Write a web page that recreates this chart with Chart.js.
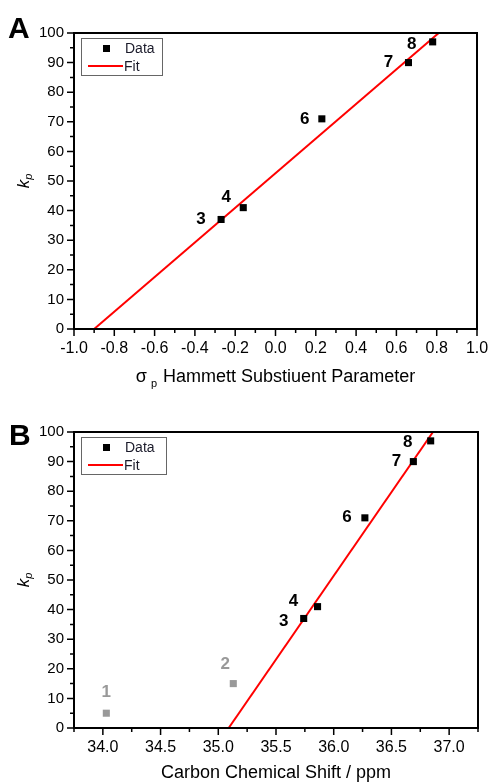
<!DOCTYPE html>
<html>
<head>
<meta charset="utf-8">
<script src="https://cdn.jsdelivr.net/npm/chart.js@4.4.1/dist/chart.umd.min.js"></script>
<style>
  html, body { margin: 0; padding: 0; background: #fff; }
  #wrap { position: relative; width: 489px; height: 783px; }
  canvas { position: absolute; left: 0; }
  #chartA { top: 0; }
  #chartB { top: 390px; }
</style>
</head>
<body>
<div id="wrap">
  <canvas id="chartA" width="489" height="390"></canvas>
  <canvas id="chartB" width="489" height="393"></canvas>
</div>
<script>
// Panel A: kp vs Hammett sigma_p
const labelsA = ['3', '4', '6', '7', '8'];
const sigmaA = [-0.27, -0.16, 0.23, 0.66, 0.78];
const kpA = [37, 41, 71, 90, 97];
const fitSigmaA = [-0.90, 0.81];
const fitKpA = [0, 100];
const xTicksA = [-1.0, -0.8, -0.6, -0.4, -0.2, 0.0, 0.2, 0.4, 0.6, 0.8, 1.0];

// Panel B: kp vs carbon chemical shift
const labelsB = ['3', '4', '6', '7', '8'];
const shiftB = [35.74, 35.86, 36.27, 36.69, 36.84];
const kpB = [37, 41, 71, 90, 97];
const outLabelsB = ['1', '2'];
const outShiftB = [34.03, 35.13];
const outKpB = [5, 15];
const fitShiftB = [35.09, 36.86];
const fitKpB = [0, 100];
const xTicksB = [34.0, 34.5, 35.0, 35.5, 36.0, 36.5, 37.0];

const yTicks = [0, 10, 20, 30, 40, 50, 60, 70, 80, 90, 100];

const FONT = '"Liberation Sans", Arial, sans-serif';

function pts(xs, ys) {
    return xs.map((v, i) => ({ x: v, y: ys[i] }));
}

function minorsOf(major, min, max) {
    const out = [];
    const step = major[1] - major[0];
    const all = [major[0] - step].concat(major, [major[major.length - 1] + step]);
    for (let i = 0; i < all.length - 1; i++) {
        const m = (all[i] + all[i + 1]) / 2;
        if (m >= min - 1e-9 && m <= max + 1e-9) out.push(m);
    }
    return out;
}

// frame, ticks, labels, legend, titles
const decor = {
    id: 'decor',
    afterDraw(chart, args, o) {
        const { ctx, chartArea: a, scales: { x, y } } = chart;
        ctx.save();
        ctx.strokeStyle = '#000';
        ctx.lineWidth = 2;
        ctx.strokeRect(a.left, a.top, a.right - a.left, a.bottom - a.top);

        ctx.lineWidth = 1.5;
        ctx.beginPath();
        o.xMajor.forEach(v => { const px = x.getPixelForValue(v); ctx.moveTo(px, a.bottom); ctx.lineTo(px, a.bottom + 7); });
        minorsOf(o.xMajor, x.min, x.max).forEach(v => { const px = x.getPixelForValue(v); ctx.moveTo(px, a.bottom); ctx.lineTo(px, a.bottom + 4); });
        yTicks.forEach(v => { const py = y.getPixelForValue(v); ctx.moveTo(a.left, py); ctx.lineTo(a.left - 7, py); });
        minorsOf(yTicks, y.min, y.max).forEach(v => { const py = y.getPixelForValue(v); ctx.moveTo(a.left, py); ctx.lineTo(a.left - 4, py); });
        ctx.stroke();

        // point labels
        ctx.textAlign = 'center';
        ctx.textBaseline = 'middle';
        o.pointLabels.forEach(pl => {
            ctx.font = 'bold 17px ' + FONT;
            ctx.fillStyle = pl.color;
            pl.names.forEach((n, i) => {
                const px = x.getPixelForValue(pl.xs[i]) + pl.off[i][0];
                const py = y.getPixelForValue(pl.ys[i]) + pl.off[i][1];
                ctx.fillText(n, px, py);
            });
        });

        // legend box
        const lx = a.left + 7, ly = a.top + 5;
        ctx.strokeStyle = '#666';
        ctx.lineWidth = 1;
        ctx.strokeRect(lx + 0.5, ly + 0.5, o.legendW, 37);
        ctx.fillStyle = '#000';
        ctx.fillRect(lx + 22, ly + 7, 7, 7);
        ctx.strokeStyle = '#ff0000';
        ctx.lineWidth = 2;
        ctx.beginPath();
        ctx.moveTo(lx + 7, ly + 28);
        ctx.lineTo(lx + 42, ly + 28);
        ctx.stroke();
        ctx.fillStyle = '#1a1a2a';
        ctx.font = '14px ' + FONT;
        ctx.textAlign = 'left';
        ctx.fillText('Data', lx + 44, ly + 11);
        ctx.fillText('Fit', lx + 43, ly + 29);

        // panel letter
        ctx.fillStyle = '#000';
        ctx.font = 'bold 30px ' + FONT;
        ctx.textBaseline = 'alphabetic';
        ctx.fillText(o.letter, o.letterX, a.top + o.letterDy);

        // y title k_p
        ctx.save();
        ctx.translate(24, (a.top + a.bottom) / 2);
        ctx.rotate(-Math.PI / 2);
        ctx.textBaseline = 'middle';
        ctx.textAlign = 'left';
        ctx.font = 'italic 17px ' + FONT;
        const kw = ctx.measureText('k').width;
        ctx.font = 'italic 11px ' + FONT;
        const pw = ctx.measureText('p').width;
        const tw = kw + pw;
        ctx.font = 'italic 17px ' + FONT;
        ctx.fillText('k', -tw / 2, 0);
        ctx.font = 'italic 11px ' + FONT;
        ctx.fillText('p', -tw / 2 + kw, 5);
        ctx.restore();

        // x title
        ctx.textBaseline = 'middle';
        ctx.textAlign = 'left';
        const cx = (a.left + a.right) / 2;
        const ty = a.bottom + o.titleDy;
        ctx.fillStyle = '#000';
        if (o.sigma) {
            ctx.font = '18px ' + FONT;
            const sw = ctx.measureText('σ').width;
            const rest = ' Hammett Substiuent Parameter';
            const rw = ctx.measureText(rest).width;
            ctx.font = '11px ' + FONT;
            const subw = ctx.measureText('p').width + 5;
            const total = sw + subw + rw;
            let sx = cx - total / 2;
            ctx.font = '18px ' + FONT;
            ctx.fillText('σ', sx, ty);
            ctx.font = '11px ' + FONT;
            ctx.fillText('p', sx + sw + 4, ty + 7);
            ctx.font = '18px ' + FONT;
            ctx.fillText(rest, sx + sw + subw, ty);
        } else {
            ctx.font = '18px ' + FONT;
            ctx.textAlign = 'center';
            ctx.fillText(o.xTitle, cx, ty);
        }
        ctx.restore();
    }
};

function makeChart(id, cfg) {
    const datasets = [
        {
            label: 'Fit',
            data: pts(cfg.fitX, cfg.fitY),
            showLine: true,
            borderColor: '#ff0000',
            borderWidth: 2,
            pointRadius: 0,
            order: 2
        },
        {
            label: 'Data',
            data: pts(cfg.xs, cfg.ys),
            pointStyle: 'rect',
            pointRadius: 5,
            backgroundColor: '#000',
            borderColor: '#000',
            borderWidth: 0,
            order: 1
        }
    ];
    if (cfg.outX) {
        datasets.push({
            label: 'Excluded',
            data: pts(cfg.outX, cfg.outY),
            pointStyle: 'rect',
            pointRadius: 5,
            backgroundColor: '#999',
            borderColor: '#999',
            borderWidth: 0,
            order: 1
        });
    }
    const canvas = document.getElementById(id);
    return new Chart(canvas.getContext('2d'), {
        type: 'scatter',
        data: { datasets },
        options: {
            responsive: false,
            animation: false,
            layout: { padding: { left: 0, right: cfg.padRight, top: cfg.padTop, bottom: 0 } },
            plugins: {
                legend: { display: false },
                tooltip: { enabled: false },
                decor: cfg.decor
            },
            scales: {
                x: {
                    type: 'linear',
                    min: cfg.xMin,
                    max: cfg.xMax,
                    grid: { display: false, drawTicks: false },
                    border: { display: false },
                    afterBuildTicks: s => { s.ticks = cfg.xTicks.map(v => ({ value: v })); },
                    afterFit: s => { s.height = cfg.xAxisH; s.paddingLeft = 0; s.paddingRight = 0; },
                    ticks: {
                        padding: 10,
                        color: '#000',
                        font: { family: FONT, size: 16 },
                        maxRotation: 0,
                        autoSkip: false,
                        callback: v => v.toFixed(1)
                    }
                },
                y: {
                    type: 'linear',
                    min: 0,
                    max: 100,
                    grid: { display: false, drawTicks: false },
                    border: { display: false },
                    afterBuildTicks: s => { s.ticks = yTicks.map(v => ({ value: v })); },
                    afterFit: s => { s.width = 74; s.paddingTop = 0; s.paddingBottom = 0; },
                    ticks: {
                        padding: 10,
                        color: '#000',
                        font: { family: FONT, size: 15 },
                        callback: v => String(v)
                    }
                }
            }
        },
        plugins: [decor]
    });
}

makeChart('chartA', {
    xs: sigmaA, ys: kpA, fitX: fitSigmaA, fitY: fitKpA,
    xMin: -1.0, xMax: 1.0, xTicks: xTicksA,
    padRight: 12, padTop: 33, xAxisH: 61,
    decor: {
        xMajor: xTicksA,
        letter: 'A', letterX: 8, letterDy: 5,
        legendW: 81,
        sigma: true, titleDy: 48,
        pointLabels: [
            { names: labelsA, xs: sigmaA, ys: kpA, color: '#000',
              off: [[-20, 0], [-17, -10], [-17, 0], [-20, 0], [-21, 2]] }
        ]
    }
});

makeChart('chartB', {
    xs: shiftB, ys: kpB, fitX: fitShiftB, fitY: fitKpB,
    outX: outShiftB, outY: outKpB,
    xMin: 33.75, xMax: 37.25, xTicks: xTicksB,
    padRight: 11, padTop: 42, xAxisH: 55,
    decor: {
        xMajor: xTicksB,
        letter: 'B', letterX: 9, letterDy: 13,
        legendW: 85,
        sigma: false, xTitle: 'Carbon Chemical Shift / ppm', titleDy: 45,
        pointLabels: [
            { names: labelsB, xs: shiftB, ys: kpB, color: '#000',
              off: [[-20, 3], [-24, -5], [-18, -1], [-17, 0], [-23, 1]] },
            { names: outLabelsB, xs: outShiftB, ys: outKpB, color: '#999',
              off: [[0, -21], [-8, -19]] }
        ]
    }
});
</script>
</body>
</html>
